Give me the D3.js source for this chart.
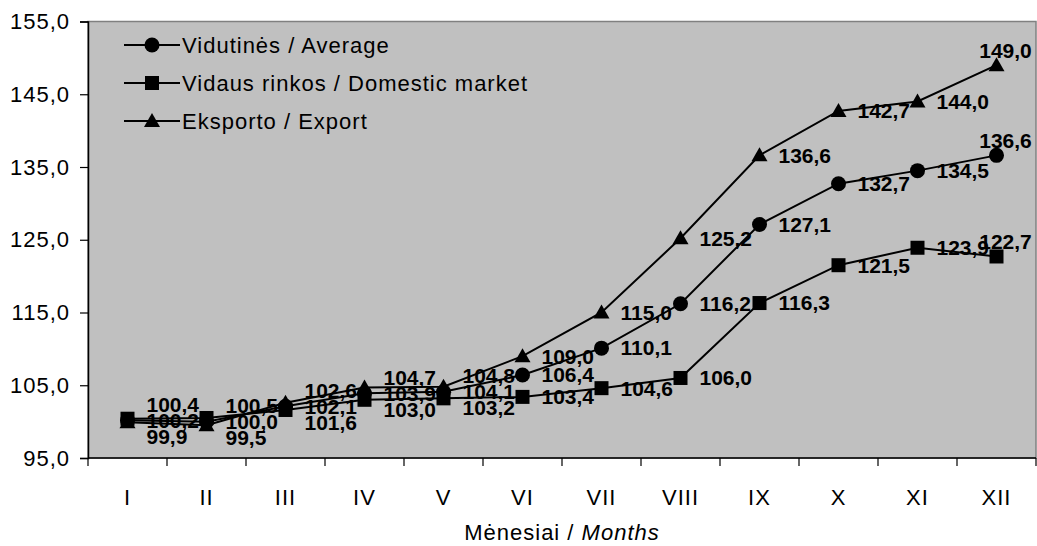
<!DOCTYPE html>
<html>
<head>
<meta charset="utf-8">
<script src="https://cdn.jsdelivr.net/npm/d3@7"></script>
<style>
  body { margin: 0; background: #fff; }
  text { font-family: "Liberation Sans", Arial, sans-serif; fill: #000; }
</style>
</head>
<body>
<div id="chart"></div>
<script>
// data
var months = ["I", "II", "III", "IV", "V", "VI", "VII", "VIII", "IX", "X", "XI", "XII"];
var average = [100.2, 100.0, 102.1, 103.9, 104.1, 106.4, 110.1, 116.2, 127.1, 132.7, 134.5, 136.6];
var domestic = [100.4, 100.5, 101.6, 103.0, 103.2, 103.4, 104.6, 106.0, 116.3, 121.5, 123.9, 122.7];
var exportIdx = [99.9, 99.5, 102.6, 104.7, 104.8, 109.0, 115.0, 125.2, 136.6, 142.7, 144.0, 149.0];
var yTicks = [95, 105, 115, 125, 135, 145, 155];
var seriesNames = ["Vidutinės / Average", "Vidaus rinkos / Domestic market", "Eksporto / Export"];

var width = 1037, height = 546;
var plotLeft = 88, plotRight = 1036, plotTop = 21.5, plotBottom = 458;

var series = [
    {name: seriesNames[0], values: average, shape: "circle"},
    {name: seriesNames[1], values: domestic, shape: "square"},
    {name: seriesNames[2], values: exportIdx, shape: "triangle"}
];

var fmt = function(v) { return d3.format(".1f")(v).replace(".", ","); };

var svg = d3.select("#chart").append("svg")
    .attr("width", width)
    .attr("height", height);

var x = d3.scaleBand().domain(months).range([plotLeft, plotRight]);
var y = d3.scaleLinear().domain([95, 155]).range([plotBottom, plotTop]);
var cx = function(i) { return x(months[i]) + x.bandwidth() / 2; };

// plot area
svg.append("rect")
    .attr("x", plotLeft).attr("y", plotTop)
    .attr("width", plotRight - plotLeft).attr("height", plotBottom - plotTop)
    .attr("fill", "#c0c0c0")
    .attr("stroke", "#808080")
    .attr("stroke-width", 1.5);

// y axis
var yAxis = svg.append("g")
    .attr("transform", "translate(" + plotLeft + ",0)")
    .call(d3.axisLeft(y).tickValues(yTicks).tickSize(8).tickPadding(10).tickFormat(fmt));
yAxis.select(".domain").attr("stroke", "#000").attr("stroke-width", 1.5);
yAxis.selectAll("line").attr("stroke-width", 1.2);
yAxis.selectAll("text")
    .attr("font-size", 22)
    .attr("letter-spacing", 1)
    .attr("font-family", "Liberation Sans, Arial, sans-serif");

// x axis: line, ticks between categories, labels at centers
svg.append("line")
    .attr("x1", plotLeft).attr("x2", plotRight)
    .attr("y1", plotBottom).attr("y2", plotBottom)
    .attr("stroke", "#000").attr("stroke-width", 1.5);

svg.selectAll(".xtick")
    .data(d3.range(months.length + 1))
    .enter().append("line")
    .attr("x1", function(i) { return plotLeft + i * x.step(); })
    .attr("x2", function(i) { return plotLeft + i * x.step(); })
    .attr("y1", plotBottom).attr("y2", plotBottom + 8)
    .attr("stroke", "#000").attr("stroke-width", 1.2);

svg.selectAll(".xlabel")
    .data(months)
    .enter().append("text")
    .attr("x", function(d, i) { return cx(i); })
    .attr("y", 505)
    .attr("text-anchor", "middle")
    .attr("font-size", 22)
    .attr("letter-spacing", 1)
    .text(function(d) { return d; });

var title = svg.append("text")
    .attr("x", (plotLeft + plotRight) / 2)
    .attr("y", 540)
    .attr("text-anchor", "middle")
    .attr("font-size", 22)
    .attr("letter-spacing", 1);
title.append("tspan").text("Mėnesiai / ");
title.append("tspan").attr("font-style", "italic").text("Months");

// markers
function drawMarker(g, shape, px, py) {
    if (shape === "circle") {
        g.append("circle").attr("cx", px).attr("cy", py).attr("r", 7.5).attr("fill", "#000");
    } else if (shape === "square") {
        g.append("rect").attr("x", px - 7).attr("y", py - 7).attr("width", 14).attr("height", 14).attr("fill", "#000");
    } else {
        g.append("path")
            .attr("d", "M" + px + "," + (py - 8) + "L" + (px + 8) + "," + (py + 6) + "L" + (px - 8) + "," + (py + 6) + "Z")
            .attr("fill", "#000");
    }
}

var line = d3.line()
    .x(function(d, i) { return cx(i); })
    .y(function(d) { return y(d); });

series.forEach(function(s) {
    var g = svg.append("g");
    g.append("path")
        .attr("d", line(s.values))
        .attr("fill", "none")
        .attr("stroke", "#000")
        .attr("stroke-width", 2);
    s.values.forEach(function(v, i) {
        drawMarker(g, s.shape, cx(i), y(v));
    });
});

// data labels, pushed apart where they would overlap
var labels = [];
months.forEach(function(m, i) {
    var col = series.map(function(s) {
        return {value: s.values[i], i: i, ly: y(s.values[i])};
    });
    col.sort(function(a, b) { return a.ly - b.ly; });
    var gap = 16;
    if (col[1].ly - col[0].ly < gap) col[0].ly = col[1].ly - gap;
    if (col[2].ly - col[1].ly < gap) col[2].ly = col[1].ly + gap;
    labels = labels.concat(col);
});

var last = months.length - 1;
svg.selectAll(".dlabel")
    .data(labels)
    .enter().append("text")
    .attr("x", function(d) { return d.i === last ? cx(d.i) + 9 : cx(d.i) + 19; })
    .attr("y", function(d) { return d.i === last ? d.ly - 15 : d.ly; })
    .attr("dy", "0.35em")
    .attr("text-anchor", function(d) { return d.i === last ? "middle" : "start"; })
    .attr("font-size", 21)
    .attr("font-weight", "bold")
    .text(function(d) { return fmt(d.value); });

// legend
var legend = svg.append("g");
series.forEach(function(s, k) {
    var ly = 45 + k * 38;
    legend.append("line")
        .attr("x1", 124).attr("x2", 180)
        .attr("y1", ly).attr("y2", ly)
        .attr("stroke", "#000").attr("stroke-width", 2);
    drawMarker(legend, s.shape, 152, ly);
    legend.append("text")
        .attr("x", 182).attr("y", ly)
        .attr("dy", "0.35em")
        .attr("font-size", 22)
        .attr("letter-spacing", 1)
        .text(s.name);
});
</script>
</body>
</html>
